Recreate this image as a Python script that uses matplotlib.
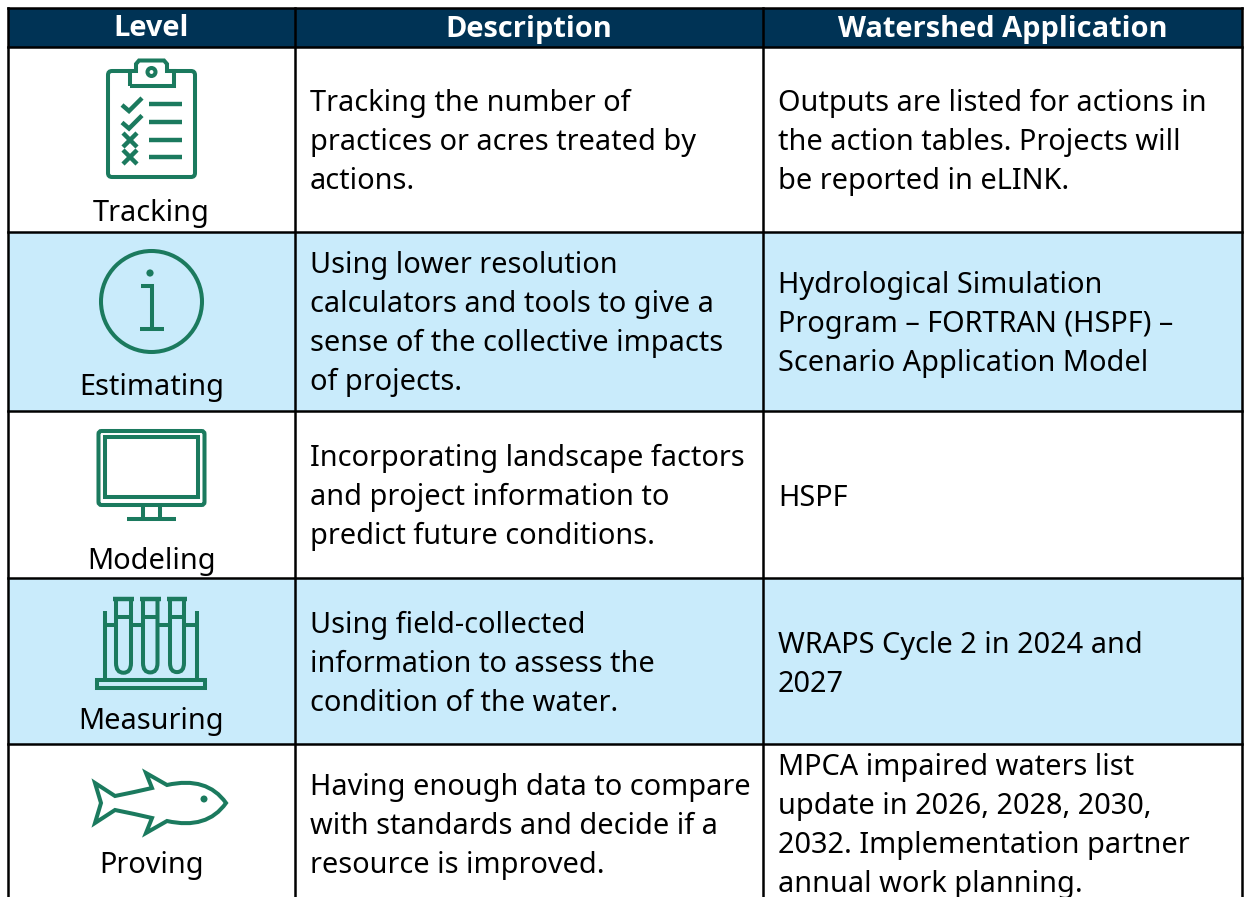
import matplotlib
matplotlib.use("Agg")
import matplotlib.pyplot as plt
from matplotlib.patches import Rectangle, Circle, FancyBboxPatch, PathPatch
from matplotlib.path import Path

plt.rcParams["font.family"] = ["Noto Sans", "DejaVu Sans"]

headers = ["Level", "Description", "Watershed Application"]
levels = ["Tracking", "Estimating", "Modeling", "Measuring", "Proving"]
descriptions = [
    ["Tracking the number of", "practices or acres treated by", "actions."],
    ["Using lower resolution", "calculators and tools to give a",
     "sense of the collective impacts", "of projects."],
    ["Incorporating landscape factors", "and project information to",
     "predict future conditions."],
    ["Using field-collected", "information to assess the",
     "condition of the water."],
    ["Having enough data to compare", "with standards and decide if a",
     "resource is improved."],
]
applications = [
    ["Outputs are listed for actions in", "the action tables. Projects will",
     "be reported in eLINK."],
    ["Hydrological Simulation", "Program \u2013 FORTRAN (HSPF) \u2013",
     "Scenario Application Model"],
    ["HSPF"],
    ["WRAPS Cycle 2 in 2024 and", "2027"],
    ["MPCA impaired waters list", "update in 2026, 2028, 2030,",
     "2032. Implementation partner", "annual work planning."],
]

# layout in image pixels
col_x = [8, 295, 763, 1242]
row_y = [8, 47, 232, 411, 578, 744, 905]
desc_y = [103, 265, 458, 625, 787]
app_y = [103, 285, 498, 645, 767]
label_y = [214, 388, 562, 722, 866]
line_h = 39.3

NAVY = "#003355"
BLUE = "#C9EBFB"
GREEN = "#1B7A5E"
ICON_LW = 2.9

fig = plt.figure(figsize=(12.44, 8.97), dpi=100)
ax = fig.add_axes([0, 0, 1, 1])
ax.set_xlim(0, 1244)
ax.set_ylim(897, 0)
ax.axis("off")


def line(xs, ys, lw=ICON_LW):
    ax.plot(xs, ys, color=GREEN, lw=lw, solid_capstyle="butt",
            solid_joinstyle="miter", zorder=3)


def rrect(x0, y0, x1, y1, r):
    ax.add_patch(FancyBboxPatch((x0 + r, y0 + r), x1 - x0 - 2 * r, y1 - y0 - 2 * r,
                                boxstyle=f"round,pad={r}", fc="none", ec=GREEN,
                                lw=ICON_LW, zorder=3))


def clipboard():
    rrect(108, 71, 195, 177, 4)
    ax.add_patch(PathPatch(Path([(130, 86), (130, 71), (136, 71), (136, 64), (139, 60.5),
                                 (164, 60.5), (167, 64), (167, 71), (174, 71), (174, 86),
                                 (130, 86)]),
                           fc="white", ec=GREEN, lw=ICON_LW, zorder=4))
    ax.add_patch(Circle((151.5, 72), 4, fc="white", ec=GREEN, lw=ICON_LW, zorder=5))
    for dy in [0, 17.5]:
        line([122, 129, 142], [105 + dy, 111 + dy, 98 + dy], lw=3.2)
    for cy in [140, 157]:
        line([123, 137], [cy - 7, cy + 7], lw=3.2)
        line([123, 137], [cy + 7, cy - 7], lw=3.2)
    for cy in [104, 122, 140, 157]:
        line([149, 182], [cy, cy], lw=3.2)


def info():
    ax.add_patch(Circle((151.5, 301.5), 50.5, fc="none", ec=GREEN, lw=ICON_LW, zorder=3))
    ax.add_patch(Circle((150, 273), 3.6, fc=GREEN, ec="none", zorder=3))
    line([141, 152, 152], [286, 286, 329])
    line([140, 163.5], [329, 329])


def monitor():
    rrect(98.5, 431, 204.5, 505, 3)
    ax.add_patch(Rectangle((105, 437), 93, 60, fc="none", ec=GREEN, lw=ICON_LW, zorder=3))
    line([143, 143], [505, 519])
    line([160, 160], [505, 519])
    line([127, 176], [519, 519])


def tubes():
    for x0, x1 in [(116, 131), (143, 157.5), (170, 184)]:
        xm = (x0 + x1) / 2
        r = (x1 - x0) / 2
        verts = [(x0, 600), (x0, 663), (x0, 663 + r * 1.3), (xm, 663 + r * 1.3),
                 (x1, 663 + r * 1.3), (x1, 663), (x1, 600)]
        codes = [Path.MOVETO, Path.LINETO, Path.CURVE3, Path.CURVE3,
                 Path.CURVE3, Path.CURVE3, Path.LINETO]
        ax.add_patch(PathPatch(Path(verts, codes), fc="none", ec=GREEN, lw=ICON_LW, zorder=3))
        line([x0 - 3, x1 + 3], [599.5, 599.5], lw=3.2)
        line([x0, x1], [617, 617])
    line([105, 105], [611, 680])
    line([197, 197], [611, 680])
    line([105, 116], [625, 625])
    line([131, 143], [625, 625])
    line([157.5, 170], [625, 625])
    line([184, 197], [625, 625])
    ax.add_patch(Rectangle((97, 680), 108, 8, fc="none", ec=GREEN, lw=ICON_LW, zorder=3))


def fish():
    verts = [(95, 783), (115, 796), (135, 792), (152, 788), (146, 773), (167, 785),
             (207, 776), (226, 803), (207, 830), (167, 821), (146, 833), (152, 818),
             (135, 814), (115, 810), (95, 823), (101, 803), (95, 783)]
    codes = [Path.MOVETO, Path.LINETO, Path.CURVE3, Path.CURVE3, Path.LINETO, Path.LINETO,
             Path.CURVE3, Path.CURVE3, Path.CURVE3, Path.CURVE3, Path.LINETO, Path.LINETO,
             Path.CURVE3, Path.CURVE3, Path.LINETO, Path.LINETO, Path.CLOSEPOLY]
    ax.add_patch(PathPatch(Path(verts, codes), fc="none", ec=GREEN, lw=ICON_LW,
                           joinstyle="miter", zorder=3))
    ax.add_patch(Circle((204, 799), 3.5, fc=GREEN, ec="none", zorder=3))


# backgrounds
ax.add_patch(Rectangle((col_x[0], row_y[0]), col_x[3] - col_x[0], row_y[1] - row_y[0],
                       fc=NAVY, ec="none", zorder=1))
for i in [1, 3]:
    ax.add_patch(Rectangle((col_x[0], row_y[i + 1]), col_x[3] - col_x[0],
                           row_y[i + 2] - row_y[i + 1], fc=BLUE, ec="none", zorder=1))

# grid
for x in col_x:
    ax.plot([x, x], [row_y[0], row_y[-1]], color="black", lw=1.8, zorder=2,
            solid_capstyle="projecting")
for y in row_y:
    ax.plot([col_x[0], col_x[3]], [y, y], color="black", lw=1.8, zorder=2,
            solid_capstyle="projecting")

# header text
for i, h in enumerate(headers):
    ax.text((col_x[i] + col_x[i + 1]) / 2, 29, h, color="white", fontsize=20.9,
            fontweight="bold", family="Open Sans", ha="center", va="center", zorder=4)

# body text
for i in range(len(levels)):
    ax.text(151.5, label_y[i], levels[i], fontsize=20.8, ha="center", va="center",
            color="black", zorder=4)
    for j, t in enumerate(descriptions[i]):
        ax.text(310, desc_y[i] + j * line_h, t, fontsize=20.8, ha="left", va="center",
                color="black", zorder=4)
    for j, t in enumerate(applications[i]):
        ax.text(778, app_y[i] + j * line_h, t, fontsize=20.8, ha="left", va="center",
                color="black", zorder=4)

clipboard()
info()
monitor()
tubes()
fish()

fig.savefig("out.png", dpi=100)
